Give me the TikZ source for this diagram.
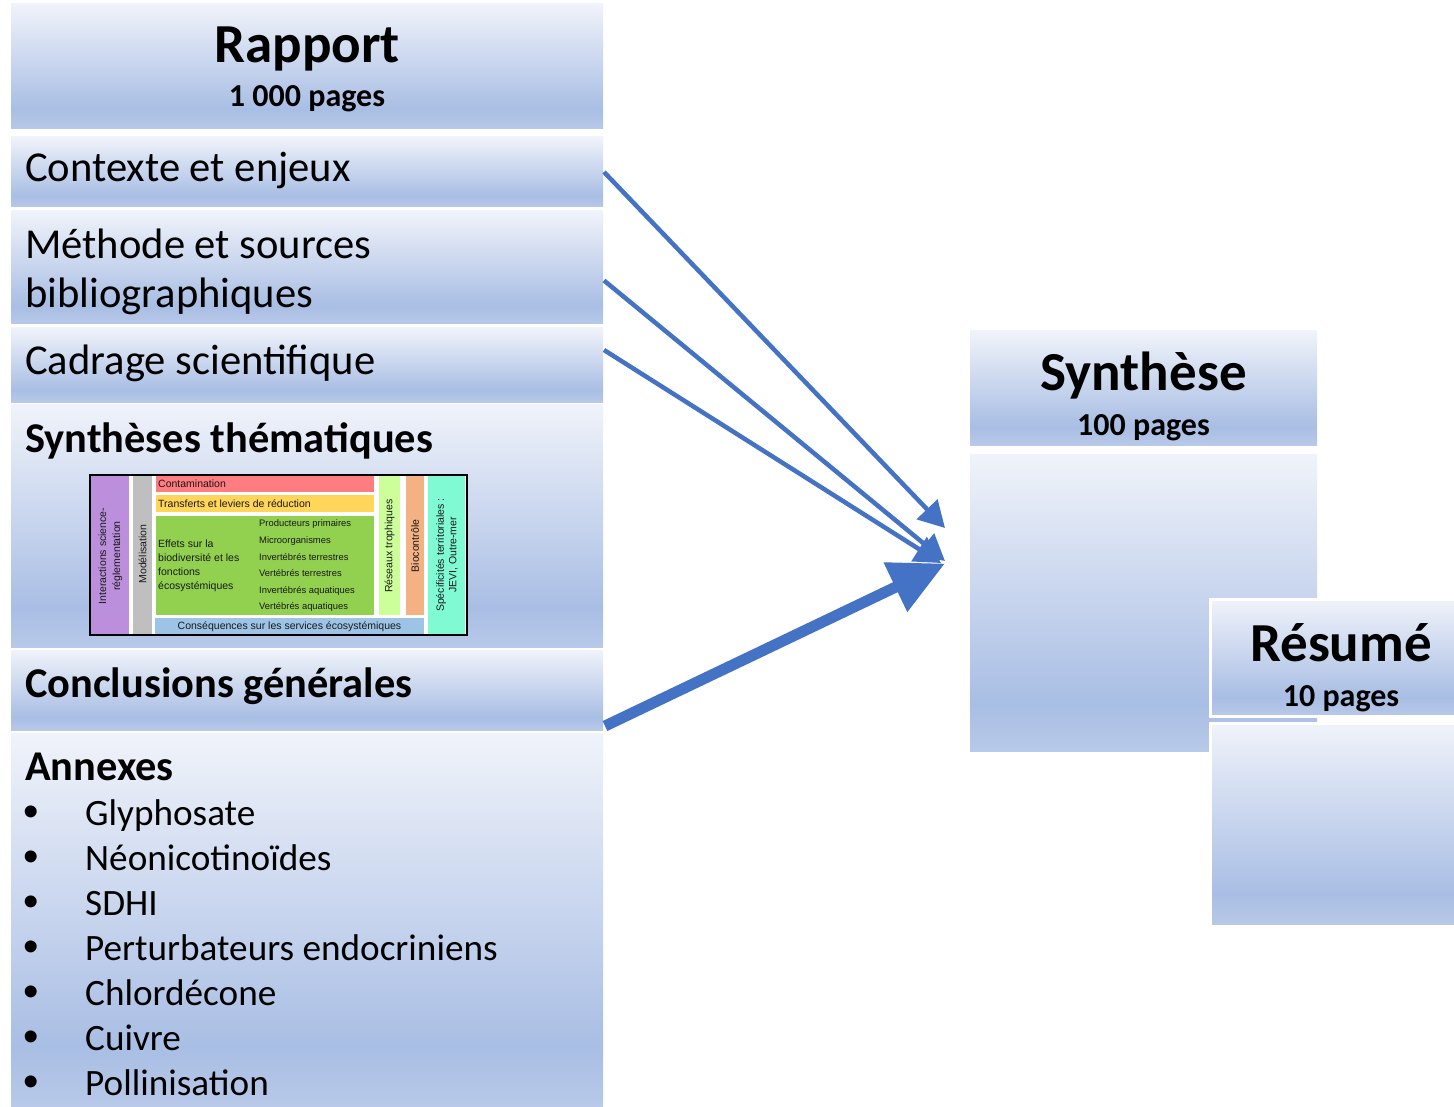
\documentclass[tikz,border=0pt]{standalone}
\usepackage{fontspec}
\setmainfont{Carlito}
\newfontfamily\arialf{Liberation Sans}
\usetikzlibrary{arrows.meta}
\definecolor{btop}{RGB}{240,243,250}
\definecolor{bdark}{RGB}{169,190,228}
\definecolor{bbot}{RGB}{184,201,233}
\definecolor{arrowblue}{RGB}{68,114,196}
\definecolor{cpurple}{RGB}{188,143,221}
\definecolor{cgray}{RGB}{191,191,191}
\definecolor{cred}{RGB}{255,124,128}
\definecolor{cyellow}{RGB}{255,213,90}
\definecolor{cgreen}{RGB}{146,208,80}
\definecolor{clgreen}{RGB}{204,255,153}
\definecolor{corange}{RGB}{244,177,131}
\definecolor{cblue}{RGB}{157,195,230}
\definecolor{caqua}{RGB}{127,250,210}
\pgfdeclareverticalshading{boxshade}{100bp}{color(0bp)=(bbot); color(25bp)=(bbot); color(33bp)=(bdark); color(75bp)=(btop); color(100bp)=(btop)}
\begin{document}
\begin{tikzpicture}[x=1pt,y=-1pt,
  panel/.style={rectangle, inner sep=0pt, outer sep=0pt, shade, shading=boxshade, anchor=north west},
  cell/.style={rectangle, inner sep=0pt, outer sep=0pt, draw=none, anchor=north west},
  bigtitle/.style={font=\fontsize{55}{60}\selectfont\bfseries, anchor=base, inner sep=0pt},
  pagestxt/.style={font=\fontsize{32}{36}\selectfont\bfseries, anchor=base, inner sep=0pt},
  sectxt/.style={font=\fontsize{42.6}{50}\selectfont, anchor=base west, inner sep=0pt},
  secbold/.style={font=\fontsize{42.4}{50}\selectfont\bfseries, anchor=base west, inner sep=0pt},
  itemtxt/.style={font=\fontsize{37.2}{45}\selectfont, anchor=base west, inner sep=0pt},
  bullettxt/.style={font=\arialf\fontsize{44}{45}\selectfont, anchor=base, inner sep=0pt},
  small/.style={font=\arialf\fontsize{10.5}{14}\selectfont, inner sep=0pt, text=black!90},
  thinarrow/.style={draw=arrowblue, line width=4.5pt, -{Triangle[length=26pt,width=28pt]}},
  thickarrow/.style={draw=arrowblue, line width=11pt, -{Triangle[length=55pt,width=52pt]}}
]
\useasboundingbox (0,0) rectangle (1454,1107);
\fill[white] (0,0) rectangle (1454,1107);

% left column
\node[panel, minimum width=592pt, minimum height=125pt] (rap) at (11,4) {};
\node[panel, minimum width=592pt, minimum height=70pt] (ctx) at (11,137) {};
\node[panel, minimum width=592pt, minimum height=113pt] (meth) at (11,211) {};
\node[panel, minimum width=592pt, minimum height=74pt] (cad) at (11,328) {};
\node[panel, minimum width=592pt, minimum height=243pt] (synt) at (11,404) {};
\node[panel, minimum width=592pt, minimum height=80pt] (concl) at (11,650) {};
\node[panel, minimum width=592pt, minimum height=374pt] (ann) at (11,733) {};

% right column
\node[panel, minimum width=347pt, minimum height=114pt] (synh) at (970,331) {};
\node[panel, minimum width=347pt, minimum height=297pt] (synb) at (970,454) {};
\node[panel, draw=white, line width=3pt, minimum width=250pt, minimum height=117pt] (resh) at (1210,599) {};
\node[panel, draw=white, line width=3pt, minimum width=250pt, minimum height=203pt] (resb) at (1210,723) {};

% titles
\node[bigtitle] (trap) at (307,63) {Rapport};
\node[pagestxt] (prap) at (307,107) {1 000 pages};
\node[sectxt] (tctx) at (25,182) {Contexte et enjeux};
\node[sectxt] (tmeth1) at (25,259) {Méthode et sources};
\node[sectxt] (tmeth2) at (25,308) {bibliographiques};
\node[sectxt] (tcad) at (25,374) {Cadrage scientifique};
\node[secbold] (tsynt) at (25,452) {Synthèses thématiques};
\node[secbold] (tconcl) at (25,697) {Conclusions générales};
\node[secbold] (tann) at (25,780) {Annexes};

\foreach \t [count=\i] in {Glyphosate, Néonicotinoïdes, SDHI, Perturbateurs endocriniens, Chlordécone, Cuivre, Pollinisation}{
  \node[bullettxt] (b\i) at (31,{826+45*(\i-1)}) {•};
  \node[itemtxt] (it\i) at (85,{825+45*(\i-1)}) {\t};
}

\node[bigtitle] (tsyn) at (1143.5,390) {Synthèse};
\node[pagestxt] (psyn) at (1143.5,435) {100 pages};
\node[bigtitle] (tres) at (1341,661) {Résumé};
\node[pagestxt] (pres) at (1341,706) {10 pages};

% inner diagram
\fill[white] (90,475) rectangle (467,635);
\node[cell, fill=cpurple, minimum width=39pt, minimum height=160pt] (cpur) at (90,475) {};
\node[cell, fill=cgray, minimum width=19pt, minimum height=160pt] (cgr) at (133,475) {};
\node[cell, fill=cred, minimum width=218pt, minimum height=16pt] (ccont) at (156,476) {};
\node[cell, fill=cyellow, minimum width=218pt, minimum height=17pt] (ctrans) at (156,495) {};
\node[cell, fill=cgreen, minimum width=218pt, minimum height=99pt] (cgrn) at (156,516) {};
\node[cell, fill=clgreen, minimum width=21pt, minimum height=139pt] (cres) at (379,476) {};
\node[cell, fill=corange, minimum width=18pt, minimum height=139pt] (cbio) at (406,476) {};
\node[cell, fill=cblue, minimum width=269pt, minimum height=16pt] (ccons) at (155,618) {};
\node[cell, fill=caqua, minimum width=37pt, minimum height=158pt] (cspe) at (428,476) {};
\draw[black, line width=1.5pt] (90,475) rectangle (467,635);

\node[small, anchor=west] (lcont) at (158,484) {Contamination};
\node[small, anchor=west] (ltrans) at (158,504) {Transferts et leviers de réduction};
\node[small, anchor=west, align=left] (leff) at (158,566) {Effets sur la\\biodiversité et les\\fonctions\\écosystémiques};
\node[small, anchor=west, align=left, font=\arialf\fontsize{9.4}{16.6}\selectfont] (llist) at (259,566) {Producteurs primaires\\Microorganismes\\Invertébrés terrestres\\Vertébrés terrestres\\Invertébrés aquatiques\\Vertébrés aquatiques};
\node[small] (lcons) at (289.5,626.5) {Conséquences sur les services écosystémiques};
\node[small, rotate=90, align=center] (lint) at (110.5,556) {Interactions science-\\réglementation};
\node[small, rotate=90] (lmod) at (142.5,554) {Modélisation};
\node[small, rotate=90] (lres) at (389.5,546) {Réseaux trophiques};
\node[small, rotate=90] (lbio) at (415,546) {Biocontrôle};
\node[small, rotate=90, align=center, font=\arialf\fontsize{10.5}{12.5}\selectfont] (lspe) at (447,555) {Spécificités territoriales :\\JEVI, Outre-mer};

% arrows
\coordinate (t1) at (945,528);
\coordinate (t2) at (945,561);
\coordinate (t3) at (941,563);
\coordinate (t4) at (945,563.5);
\draw[thinarrow] ([xshift=1pt]ctx.east) -- (t1);
\draw[thinarrow] ([xshift=1pt,yshift=-13pt]meth.east) -- (t2);
\draw[thinarrow] ([xshift=1pt,yshift=15pt]cad.east) -- (t3);
\draw[thickarrow] ([xshift=2pt,yshift=-36pt]concl.east) -- (t4);
\end{tikzpicture}
\end{document}
